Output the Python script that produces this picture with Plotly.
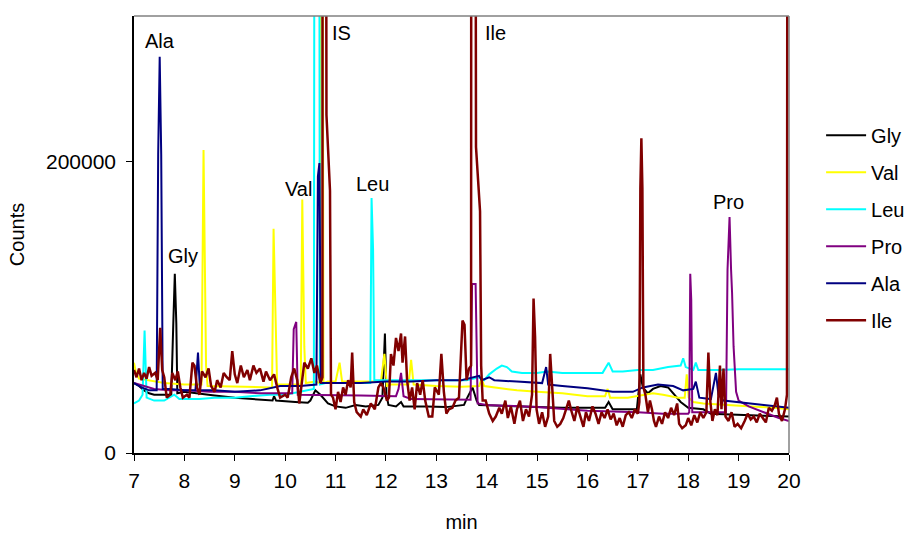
import plotly.graph_objects as go

# ---------------- data (time in min, intensity in counts) ----------------
gly_t = [7.0, 7.1, 7.2, 7.3, 7.4, 7.6, 7.74, 7.78, 7.81, 7.84, 7.86, 8.0, 8.3, 8.6, 9.0, 9.3, 9.6, 9.75, 9.78, 9.82,
         10.2, 10.45, 10.5, 10.6, 10.7, 10.85, 11.0, 11.2, 11.4, 11.6, 11.85, 11.93, 11.98, 12.01, 12.05, 12.2, 12.3,
         12.35, 12.8, 13.2, 13.55, 13.6, 13.72, 13.8, 13.85, 14.5, 15.0, 15.5, 16.35, 16.42, 16.5, 16.98, 17.05, 17.1,
         17.2, 17.3, 17.45, 17.6, 17.7, 17.85, 18.0, 18.3, 18.45, 19.0, 19.5, 20.0]
gly_v = [48000, 46000, 43000, 41000, 40000, 40000, 40000, 89000, 123000, 89000, 41000, 42000, 41000, 39500, 38000,
         37000, 36000, 36000, 39000, 36000, 35000, 34500, 36000, 43000, 40000, 34000, 32000, 31000, 33000, 32000,
         33000, 38000, 82000, 40000, 33000, 32000, 35000, 32000, 32000, 31500, 33000, 37000, 45000, 36000, 33000,
         32000, 31500, 31000, 31000, 35000, 30000, 30000, 54000, 45000, 41000, 44000, 46000, 45000, 41000, 35000,
         31000, 30000, 27000, 26000, 25500, 25000]

val_t = [7.0, 7.04, 7.1, 7.3, 7.6, 8.0, 8.34, 8.38, 8.43, 8.46, 8.8, 9.2, 9.7, 9.74, 9.77, 9.81, 9.84, 10.1, 10.31,
         10.34, 10.38, 10.41, 10.6, 10.69, 10.72, 10.76, 10.85, 11.0, 11.08, 11.13, 11.4, 11.9, 11.97, 12.02, 12.1,
         12.45, 12.5, 12.55, 13.0, 13.5, 13.85, 13.9, 13.95, 14.2, 14.6, 15.0, 15.5, 16.0, 16.35, 16.4, 16.45, 16.8,
         17.1, 17.3, 17.5, 17.8, 17.93, 17.97, 18.01, 18.1, 18.3, 18.8, 19.3, 19.7, 20.0]
val_v = [62000, 55000, 51000, 50000, 48000, 47000, 47000, 208000, 60000, 46000, 46000, 45500, 45000, 45000, 154000,
         98000, 47000, 47000, 47000, 174000, 73000, 48000, 49000, 48000, 900000, 48000, 49000, 49000, 62000, 49000,
         49000, 49000, 68000, 46000, 47000, 47000, 64000, 47000, 46000, 45500, 46000, 51000, 46000, 45000, 43000,
         42000, 41000, 39000, 39000, 44000, 38000, 38000, 40000, 41000, 40000, 38000, 38000, 54000, 38000, 35000,
         34000, 33000, 32000, 31000, 30000]

leu_t = [7.0, 7.1, 7.17, 7.21, 7.25, 7.4, 7.6, 7.8, 7.9, 8.3, 8.6, 9.0, 9.3, 9.7, 10.0, 10.3, 10.57, 10.595, 10.66,
         10.69, 10.8, 11.0, 11.5, 11.69, 11.715, 11.745, 11.77, 12.0, 12.5, 13.0, 13.6, 13.85, 13.95, 14.05, 14.2,
         14.3, 14.4, 14.5, 14.7, 15.0, 15.2, 15.5, 16.0, 16.3, 16.42, 16.5, 16.7, 17.0, 17.3, 17.6, 17.85, 17.9,
         17.95, 18.1, 18.15, 18.2, 18.6, 19.0, 20.0]
leu_v = [34000, 36000, 40000, 84000, 38000, 36000, 36000, 40000, 37000, 37000, 38000, 38000, 39000, 40000, 40000,
         42000, 44000, 900000, 900000, 47000, 48000, 48000, 48000, 48000, 175000, 140000, 50000, 50000, 50000,
         50000, 50000, 52000, 50000, 54000, 58000, 60000, 59000, 56000, 55000, 55000, 56000, 55000, 55000, 55000,
         62000, 56000, 56000, 57000, 57000, 59000, 60000, 65000, 59000, 57000, 62000, 57000, 57000, 57500, 57500]

pro_t = [7.0, 7.2, 7.4, 7.7, 8.0, 8.5, 9.0, 9.5, 10.14, 10.17, 10.22, 10.25, 10.5, 10.9, 11.5, 12.2, 12.25, 12.3,
         12.35, 12.5, 13.0, 13.68, 13.71, 13.78, 13.82, 14.0, 15.0, 16.0, 17.0, 17.5, 18.0, 18.02, 18.04, 18.06,
         18.08, 18.4, 18.75, 18.78, 18.82, 18.85, 18.87, 18.9, 18.95, 19.0, 19.2, 19.5, 19.8, 20.0]
pro_v = [48000, 46000, 44000, 43000, 43000, 42000, 42000, 41000, 41000, 85000, 90000, 40000, 40000, 40000, 39500,
         39000, 44000, 55000, 39000, 37000, 37000, 36500, 116000, 116000, 34000, 33000, 31500, 29000, 28000, 27000,
         27000, 28000, 123000, 105000, 28000, 28000, 28000, 126000, 162000, 126000, 110000, 73000, 42000, 36000,
         32000, 28000, 24000, 22000]

ala_t = [7.0, 7.15, 7.3, 7.45, 7.48, 7.51, 7.54, 7.57, 7.7, 8.0, 8.22, 8.27, 8.31, 8.6, 9.0, 9.5, 9.9, 10.3, 10.62,
         10.65, 10.68, 10.71, 10.8, 11.5, 12.0, 12.5, 13.0, 13.5, 13.85, 13.9, 14.05, 14.15, 14.6, 15.1, 15.18,
         15.22, 15.5, 16.0, 16.5, 16.9, 17.1, 17.4, 17.7, 17.9, 18.1, 18.15, 18.22, 18.45, 18.55, 18.6, 18.7, 19.0,
         19.5, 20.0]
ala_v = [48000, 45000, 43000, 43000, 205000, 272000, 205000, 44000, 44000, 43000, 43000, 69000, 43000, 43000,
         42000, 43000, 46000, 46000, 47000, 190000, 199000, 48000, 48000, 48000, 49000, 49000, 50000, 50000, 53000,
         50000, 52000, 50000, 49000, 48000, 59000, 47000, 46000, 44500, 42000, 42000, 45000, 47000, 46000, 43000,
         44000, 49000, 38000, 37000, 55000, 40000, 36000, 35000, 33000, 31000]

ile_t = [7.0, 7.05, 7.1, 7.15, 7.2, 7.25, 7.3, 7.35, 7.42, 7.47, 7.52, 7.56, 7.6, 7.65, 7.72, 7.76, 7.82, 7.87, 7.92,
         7.97, 8.05, 8.1, 8.16, 8.2, 8.25, 8.3, 8.35, 8.42, 8.48, 8.53, 8.6, 8.65, 8.72, 8.78, 8.84, 8.9, 8.95, 9.0,
         9.05, 9.12, 9.18, 9.25, 9.3, 9.37, 9.43, 9.5, 9.57, 9.62, 9.7, 9.78, 9.85, 9.9, 10.0, 10.05, 10.12, 10.18,
         10.24, 10.28, 10.32, 10.38, 10.45, 10.52, 10.58, 10.63, 10.7, 10.74, 10.75, 10.81, 10.82, 10.89, 10.91,
         10.95, 11.0, 11.05, 11.1, 11.15, 11.2, 11.25, 11.3, 11.33, 11.37, 11.42, 11.5, 11.55, 11.62, 11.7, 11.78,
         11.85, 11.9, 11.95, 12.02, 12.06, 12.1, 12.15, 12.2, 12.25, 12.3, 12.33, 12.38, 12.42, 12.47, 12.52, 12.57,
         12.62, 12.68, 12.73, 12.78, 12.85, 12.92, 12.97, 13.05, 13.1, 13.15, 13.2, 13.25, 13.32, 13.38, 13.45,
         13.52, 13.56, 13.6, 13.65, 13.69, 13.71, 13.75, 13.788, 13.868, 13.89, 13.92, 13.98, 14.05, 14.12, 14.18,
         14.25, 14.3, 14.37, 14.42, 14.48, 14.55, 14.6, 14.66, 14.72, 14.78, 14.84, 14.9, 14.93, 14.96, 14.99,
         15.04, 15.1, 15.16, 15.22, 15.26, 15.3, 15.34, 15.4, 15.46, 15.52, 15.58, 15.63, 15.68, 15.74, 15.8, 15.86,
         15.92, 15.97, 16.03, 16.1, 16.16, 16.22, 16.28, 16.34, 16.4, 16.46, 16.52, 16.58, 16.64, 16.7, 16.76,
         16.82, 16.88, 16.94, 17.0, 17.03, 17.05, 17.07, 17.09, 17.11, 17.15, 17.2, 17.24, 17.28, 17.32, 17.36,
         17.42, 17.48, 17.54, 17.6, 17.66, 17.72, 17.78, 17.82, 17.88, 17.95, 18.0, 18.06, 18.12, 18.18, 18.24,
         18.3, 18.36, 18.4, 18.44, 18.48, 18.53, 18.58, 18.63, 18.66, 18.7, 18.74, 18.8, 18.86, 18.92, 18.98, 19.05,
         19.12, 19.18, 19.24, 19.3, 19.36, 19.42, 19.48, 19.54, 19.6, 19.66, 19.72, 19.76, 19.8, 19.86, 19.92,
         19.96, 20.0]
ile_v = [57000, 52000, 58000, 50000, 55000, 51000, 59000, 53000, 55000, 50000, 86000, 57000, 52000, 38000, 40000,
         55000, 50000, 56000, 45000, 38000, 40000, 38000, 62000, 60000, 45000, 40000, 56000, 52000, 58000, 46000,
         42000, 50000, 45000, 55000, 52000, 50000, 70000, 54000, 48000, 60000, 52000, 57000, 50000, 60000, 55000,
         58000, 49000, 56000, 50000, 54000, 44000, 38000, 40000, 38000, 52000, 58000, 50000, 34000, 45000, 62000,
         58000, 65000, 55000, 60000, 48000, 52000, 2000000, 2000000, 232000, 180000, 40000, 38000, 30000, 42000,
         35000, 45000, 40000, 50000, 45000, 69000, 35000, 28000, 25000, 30000, 26000, 34000, 30000, 45000, 48000,
         45000, 36000, 38000, 68000, 60000, 79000, 70000, 82000, 62000, 80000, 50000, 36000, 45000, 30000, 48000,
         40000, 50000, 36000, 25000, 25000, 45000, 40000, 68000, 42000, 27000, 30000, 31000, 36000, 38000, 91000,
         88000, 50000, 58000, 60000, 2000000, 2000000, 210000, 166000, 60000, 36000, 36000, 27000, 22000, 25000,
         31000, 27000, 36000, 24000, 32000, 20000, 30000, 36000, 22000, 30000, 25000, 40000, 106000, 80000, 30000,
         20000, 28000, 18000, 25000, 68000, 40000, 22000, 18000, 20000, 24000, 30000, 36000, 29000, 22000, 32000,
         25000, 18000, 28000, 22000, 32000, 27000, 20000, 28000, 24000, 30000, 23000, 27000, 19000, 24000, 18000,
         26000, 28000, 24000, 30000, 27000, 35000, 182000, 216000, 182000, 45000, 40000, 28000, 36000, 30000, 22000,
         18000, 25000, 20000, 28000, 24000, 31000, 26000, 34000, 20000, 17000, 19000, 24000, 19000, 26000, 21000,
         28000, 24000, 28000, 69000, 35000, 22000, 30000, 26000, 60000, 30000, 58000, 25000, 22000, 28000, 18000,
         20000, 17000, 22000, 27000, 23000, 25000, 21000, 27000, 24000, 21000, 31000, 29000, 33000, 38000, 27000,
         22000, 30000, 40000, 2000000]

series_names = ["Gly", "Val", "Leu", "Pro", "Ala", "Ile"]
series_colors = ["#000000", "#FFFF00", "#00FFFF", "#800080", "#000080", "#800000"]
series_widths = [2, 2, 2, 2, 2, 2.5]
series_t = [gly_t, val_t, leu_t, pro_t, ala_t, ile_t]
series_v = [gly_v, val_v, leu_v, pro_v, ala_v, ile_v]

# peak labels (text, time, counts)
label_text = ["Ala", "Gly", "Val", "IS", "Leu", "Ile", "Pro"]
label_t = [7.52, 7.97, 10.27, 11.11, 11.73, 14.18, 18.79]
label_v = [283000, 135000, 181000, 288000, 185000, 288000, 172000]

x_ticks = list(range(7, 21))
y_ticks = [0, 200000]

FONT = "Liberation Sans, Arial, sans-serif"
FS = 20

fig = go.Figure()
for name, color, w, t, v in zip(series_names, series_colors, series_widths, series_t, series_v):
    fig.add_trace(go.Scatter(x=t, y=v, mode="lines", name=name, legendgroup=name,
                             line=dict(color=color, width=w)))

for txt, t, v in zip(label_text, label_t, label_v):
    fig.add_annotation(x=t, y=v, text=txt, showarrow=False,
                       font=dict(family=FONT, size=FS, color="#000000"))

# plot-area frame (top and right edges in grey)
fig.add_shape(type="line", xref="paper", yref="paper", x0=0, x1=1, y0=1, y1=1,
              line=dict(color="#808080", width=1.5))
fig.add_shape(type="line", xref="paper", yref="paper", x0=1, x1=1, y0=0, y1=1,
              line=dict(color="#808080", width=1.5))

fig.update_layout(
    width=908, height=533,
    margin=dict(l=134, r=119, t=16, b=80, autoexpand=False),
    paper_bgcolor="white", plot_bgcolor="white",
    font=dict(family=FONT, size=FS, color="#000000"),
    showlegend=True,
    legend=dict(x=1.049, y=0.772, xanchor="left", yanchor="top",
                font=dict(family=FONT, size=FS), tracegroupgap=8, itemwidth=40,
                bgcolor="rgba(0,0,0,0)"),
    xaxis=dict(range=[7, 20], tickvals=x_ticks, ticks="outside", ticklen=6, tickcolor="#000000",
               showline=True, linecolor="#000000", linewidth=1.5, showgrid=False, zeroline=False,
               ticklabelstandoff=2, tickfont=dict(size=21), automargin=False,
               title=dict(text="min", standoff=28, font=dict(size=FS))),
    yaxis=dict(range=[0, 300000], tickvals=y_ticks, tickformat="d", ticks="outside", ticklen=6,
               tickcolor="#000000", showline=True, linecolor="#000000", linewidth=1.5,
               showgrid=False, zeroline=False, ticklabelstandoff=6, tickfont=dict(size=21),
               automargin=False,
               title=dict(text="Counts", standoff=16, font=dict(size=FS))),
)

fig.write_html("out.html")
